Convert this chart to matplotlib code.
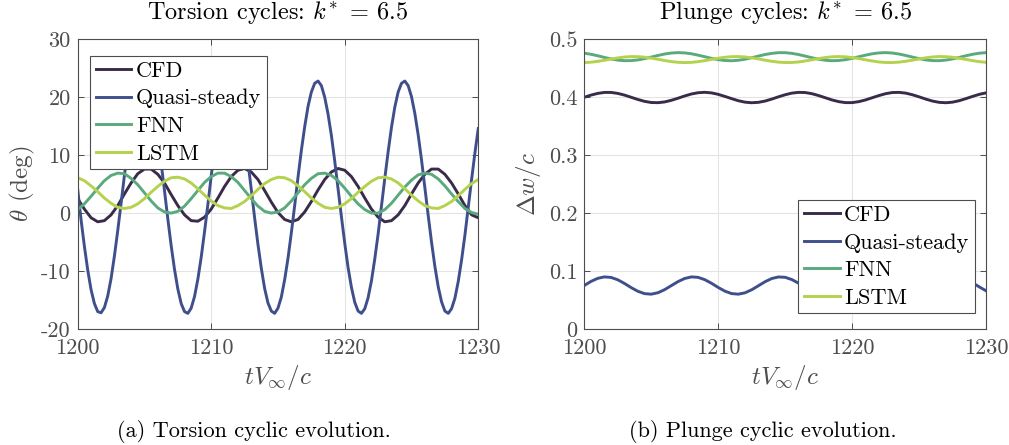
import numpy as np
import matplotlib
matplotlib.use('Agg')  # no display
import matplotlib.pyplot as plt

plt.rcParams['font.family'] = 'serif'
plt.rcParams['font.serif'] = ['cmr10']
plt.rcParams['mathtext.fontset'] = 'cm'
plt.rcParams['axes.unicode_minus'] = False

# time samples (tV/c)
t_half = np.linspace(1200, 1230, 61)     # every 0.5
t_quarter = np.linspace(1200, 1230, 121)  # every 0.25, for the big quasi-steady swing

labels = ['CFD', 'Quasi-steady', 'FNN', 'LSTM']
colors = ['#3b2b4b', '#3f4f8c', '#5aaa7e', '#b4d24e']

# torsion, theta (deg)
torsion_cfd = [2.5, 0.7, -0.8, -1.5, -1.3, -0.3, 1.3, 3.3, 5.2, 6.8,
               7.6, 7.6, 6.7, 5.2, 3.2, 1.3, -0.3, -1.3, -1.4, -0.7,
               0.7, 2.6, 4.6, 6.3, 7.4, 7.7, 7.1, 5.8, 3.9, 1.9,
               0.1, -1.1, -1.5, -1.1, 0.2, 2.0, 4.0, 5.8, 7.1, 7.7,
               7.4, 6.3, 4.6, 2.6, 0.7, -0.7, -1.5, -1.3, -0.3, 1.3,
               3.3, 5.2, 6.7, 7.6, 7.6, 6.7, 5.2, 3.3, 1.3, -0.3, -0.8]
torsion_qs = [4.1, -1.1, -5.7, -9.8, -13.2, -15.6, -17.0, -17.2, -16.3, -14.3, -11.3, -7.4,
              -3.0, 1.7, 6.5, 11.1, 15.3, 18.6, 21.1, 22.5, 22.8, 21.9, 19.8, 16.8,
              13.0, 8.6, 3.9, -1.0, -5.6, -9.7, -13.1, -15.6, -17.0, -17.3, -16.4, -14.4, -11.4,
              -7.6, -3.2, 1.5, 6.4, 11.0, 15.1, 18.5, 21.0, 22.5, 22.8, 21.9, 19.9,
              17.0, 13.2, 8.8, 4.1, -0.8, -5.4, -9.5, -13.0, -15.5, -16.9, -17.3, -16.4, -14.5,
              -11.5, -7.8, -3.4, 1.3, 6.2, 10.8, 14.9, 18.4, 20.9, 22.4, 22.8, 22.0,
              20.0, 17.1, 13.4, 9.0, 4.2, -0.6, -5.2, -9.4, -12.8, -15.4, -16.9, -17.3, -16.5,
              -14.6, -11.7, -7.9, -3.6, 1.2, 6.0, 10.6, 14.8, 18.3, 20.9, 22.4, 22.8,
              22.0, 20.1, 17.2, 13.5, 9.2, 4.4, -0.4, -5.0, -9.2, -12.7, -15.3, -16.9,
              -17.3, -16.5, -14.7, -11.8, -8.1, -3.8, 1.0, 5.8, 10.4, 14.6]
torsion_fnn = [0.6, 1.6, 2.9, 4.3, 5.6, 6.5, 6.9, 6.8, 6.0, 4.9,
               3.5, 2.1, 0.9, 0.2, 0.0, 0.3, 1.2, 2.5, 3.9, 5.3,
               6.3, 6.9, 6.9, 6.3, 5.3, 3.9, 2.5, 1.2, 0.3, 0.0,
               0.2, 0.9, 2.1, 3.5, 4.9, 6.0, 6.8, 6.9, 6.5, 5.6,
               4.3, 2.9, 1.6, 0.6, 0.0, 0.0, 0.6, 1.7, 3.1, 4.5,
               5.7, 6.6, 6.9, 6.7, 5.9, 4.7, 3.3, 2.0, 0.8, 0.1, -0.2]
torsion_lstm = [6.1, 5.6, 4.7, 3.7, 2.6, 1.7, 1.0, 0.8, 1.0, 1.6,
                2.5, 3.6, 4.6, 5.5, 6.1, 6.2, 5.9, 5.2, 4.2, 3.1,
                2.1, 1.3, 0.9, 0.8, 1.3, 2.0, 3.0, 4.1, 5.1, 5.8, 6.2,
                6.1, 5.6, 4.7, 3.7, 2.6, 1.7, 1.0, 0.8, 1.0, 1.6,
                2.5, 3.6, 4.6, 5.5, 6.1, 6.2, 5.9, 5.2, 4.2, 3.1,
                2.1, 1.3, 0.9, 0.8, 1.3, 2.0, 3.0, 4.1, 5.1, 5.8]

# plunge, dw/c
plunge_cfd = [0.3999, 0.4037, 0.4066, 0.4083, 0.4083, 0.4066, 0.4037, 0.3999, 0.3961, 0.3929,
              0.3909, 0.3906, 0.3919, 0.3947, 0.3983, 0.4022, 0.4056, 0.4078, 0.4085, 0.4075,
              0.4050, 0.4014, 0.3976, 0.3940, 0.3915, 0.3905, 0.3912, 0.3934, 0.3968, 0.4007,
              0.4043, 0.4071, 0.4084, 0.4081, 0.4061, 0.4029, 0.3991, 0.3953, 0.3924, 0.3907,
              0.3907, 0.3924, 0.3953, 0.3991, 0.4029, 0.4061, 0.4081, 0.4084, 0.4071, 0.4043,
              0.4007, 0.3968, 0.3934, 0.3912, 0.3905, 0.3915, 0.3940, 0.3976, 0.4014, 0.4050, 0.4075]
plunge_qs = [0.0751, 0.0821, 0.0874, 0.0899, 0.0890, 0.0849, 0.0786, 0.0714, 0.0651, 0.0610,
             0.0601, 0.0626, 0.0679, 0.0749, 0.0818, 0.0872, 0.0899, 0.0891, 0.0851, 0.0789,
             0.0717, 0.0653, 0.0611, 0.0601, 0.0624, 0.0677, 0.0746, 0.0816, 0.0871, 0.0898,
             0.0892, 0.0853, 0.0791, 0.0720, 0.0655, 0.0612, 0.0600, 0.0623, 0.0674, 0.0743,
             0.0813, 0.0869, 0.0898, 0.0893, 0.0856, 0.0794, 0.0723, 0.0657, 0.0613, 0.0600,
             0.0621, 0.0672, 0.0740, 0.0810, 0.0867, 0.0897, 0.0894, 0.0858, 0.0797, 0.0726, 0.0660]
plunge_fnn = [0.4760, 0.4741, 0.4716, 0.4687, 0.4661, 0.4641, 0.4631, 0.4632, 0.4644, 0.4666,
              0.4693, 0.4721, 0.4746, 0.4763, 0.4770, 0.4765, 0.4750, 0.4726, 0.4699, 0.4671,
              0.4648, 0.4634, 0.4630, 0.4638, 0.4656, 0.4682, 0.4710, 0.4737, 0.4757, 0.4769,
              0.4769, 0.4757, 0.4737, 0.4710, 0.4682, 0.4656, 0.4638, 0.4630, 0.4634, 0.4648,
              0.4671, 0.4699, 0.4726, 0.4750, 0.4765, 0.4770, 0.4763, 0.4746, 0.4721, 0.4693,
              0.4666, 0.4644, 0.4632, 0.4631, 0.4641, 0.4661, 0.4687, 0.4716, 0.4741, 0.4760, 0.4769]
plunge_lstm = [0.4598, 0.4605, 0.4619, 0.4638, 0.4659, 0.4679, 0.4694, 0.4701, 0.4700, 0.4691,
               0.4675, 0.4655, 0.4634, 0.4615, 0.4603, 0.4598, 0.4602, 0.4614, 0.4632, 0.4653,
               0.4673, 0.4690, 0.4700, 0.4702, 0.4695, 0.4680, 0.4661, 0.4640, 0.4620, 0.4606,
               0.4599, 0.4600, 0.4609, 0.4626, 0.4646, 0.4667, 0.4685, 0.4698, 0.4702, 0.4698,
               0.4685, 0.4667, 0.4646, 0.4626, 0.4609, 0.4600, 0.4599, 0.4606, 0.4620, 0.4640,
               0.4661, 0.4680, 0.4695, 0.4702, 0.4700, 0.4690, 0.4673, 0.4653, 0.4632, 0.4614, 0.4602]

x_ticks = [1200, 1210, 1220, 1230]
torsion_ticks = [-20, -10, 0, 10, 20, 30]
plunge_ticks = [0, 0.1, 0.2, 0.3, 0.4, 0.5]
plunge_ticklabels = ['0', '0.1', '0.2', '0.3', '0.4', '0.5']

grey = '#4d4d4d'
fs = 16

fig = plt.figure(figsize=(10.09, 4.45), dpi=100)
ax1 = fig.add_axes([0.0770, 0.2607, 0.3970, 0.6510])
ax2 = fig.add_axes([0.5791, 0.2607, 0.3981, 0.6510])

def style(ax, yticks, yticklabels, ylim):
	ax.set_xlim(1200, 1230)
	ax.set_ylim(*ylim)
	ax.set_xticks(x_ticks)
	ax.set_xticklabels([str(x) for x in x_ticks])
	ax.set_yticks(yticks)
	ax.set_yticklabels(yticklabels)
	ax.grid(True, color='#e4e4e4', linewidth=0.8)
	ax.set_axisbelow(True)
	ax.tick_params(direction='in', top=True, right=True, length=4, width=0.7,
				   color=grey, labelcolor=grey, labelsize=fs)
	ax.tick_params(axis='x', pad=7)
	ax.tick_params(axis='y', pad=5)
	for sp in ax.spines.values():
		sp.set_color(grey)
		sp.set_linewidth(0.8)
	ax.set_xlabel(r'$tV_\infty/c$', fontsize=18, color=grey, va='baseline')
	ax.xaxis.set_label_coords(0.5, -0.19)

lw = 2.1
ax1.plot(t_half, torsion_cfd, color=colors[0], lw=lw, label=labels[0])
ax1.plot(t_quarter, torsion_qs, color=colors[1], lw=lw, label=labels[1])
ax1.plot(t_half, torsion_fnn, color=colors[2], lw=lw, label=labels[2])
ax1.plot(t_half, torsion_lstm, color=colors[3], lw=lw, label=labels[3])

ax2.plot(t_half, plunge_cfd, color=colors[0], lw=lw, label=labels[0])
ax2.plot(t_half, plunge_qs, color=colors[1], lw=lw, label=labels[1])
ax2.plot(t_half, plunge_fnn, color=colors[2], lw=lw, label=labels[2])
ax2.plot(t_half, plunge_lstm, color=colors[3], lw=lw, label=labels[3])

style(ax1, torsion_ticks, [str(v) for v in torsion_ticks], (-20, 30))
style(ax2, plunge_ticks, plunge_ticklabels, (0, 0.5))

ax1.set_ylabel(r'$\theta$ (deg)', fontsize=18, color=grey, va='center')
ax1.yaxis.set_label_coords(-0.139, 0.5)
ax2.set_ylabel(r'$\Delta w/c$', fontsize=18, color=grey, va='center')
ax2.yaxis.set_label_coords(-0.138, 0.5)

ax1.set_title(r'Torsion cycles: $k^{\!*}\,=\,6.5$', fontsize=17.5, y=1.041, va='baseline')
ax2.set_title(r'Plunge cycles: $k^{\!*}\,=\,6.5$', fontsize=17.5, y=1.041, va='baseline')

for ax, anchor in ((ax1, (0.0315, 0.943)), (ax2, (0.533, 0.4453))):
	leg = ax.legend(loc='upper left', bbox_to_anchor=anchor, borderaxespad=0, fontsize=fs,
					handlelength=1.6, handletextpad=0.2, labelspacing=0.36, borderpad=0.25,
					fancybox=False, framealpha=1, edgecolor=grey)
	leg.get_frame().set_linewidth(0.8)

fig.text(0.2515, 0.0187, '(a) Torsion cyclic evolution.', fontsize=fs, ha='center', va='baseline')
fig.text(0.7560, 0.0187, '(b) Plunge cyclic evolution.', fontsize=fs, ha='center', va='baseline')

fig.savefig('out.png', dpi=100)
plt.close(fig)
